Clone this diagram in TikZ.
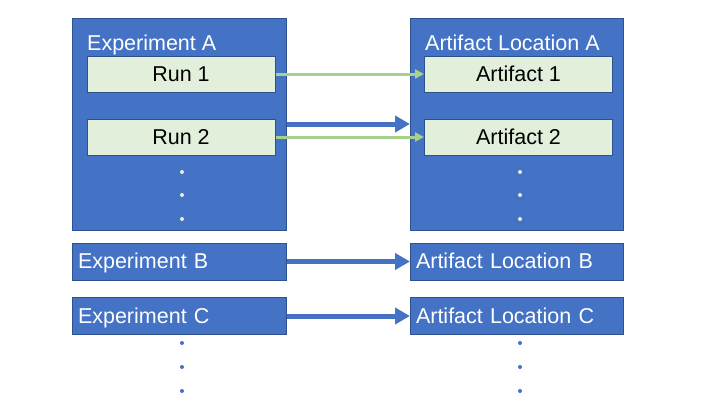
\documentclass[tikz,border=0pt]{standalone}
\usepackage{fontspec}
\setmainfont{Liberation Sans}
\usetikzlibrary{arrows.meta}
\definecolor{officeBlue}{HTML}{4472C4}
\definecolor{edgeBlue}{HTML}{2F528F}
\definecolor{runGreen}{HTML}{E2EFDA}
\definecolor{arrowGreen}{HTML}{A9D18E}
\begin{document}
\begin{tikzpicture}[x=1pt, y=-1pt,
    outerBox/.style={rectangle, draw=edgeBlue, line width=1pt, fill=officeBlue, text=white, font=\fontsize{21.5}{25}\selectfont, inner sep=0pt},
    rowBox/.style={outerBox, minimum width=214pt, minimum height=37pt, text width=202pt, align=left, text height=15pt, text depth=1pt},
    innerBox/.style={rectangle, draw=edgeBlue, line width=1pt, fill=runGreen, text=black, font=\fontsize{21.5}{25}\selectfont, minimum width=188pt, minimum height=36pt, inner sep=0pt, text height=15pt, text depth=1pt},
    blueArrow/.style={draw=officeBlue, line width=5pt, -{Triangle[length=15pt, width=16pt]}, shorten >=-0.5pt},
    greenArrow/.style={draw=arrowGreen, line width=3pt, -{Triangle[length=9pt, width=9pt]}}]
    \useasboundingbox (0,0) rectangle (720,405);
    % big boxes
    \node[outerBox, minimum width=214pt, minimum height=212pt](expA) at (179, 124) {};
    \node[outerBox, minimum width=213pt, minimum height=212pt](locA) at (516.5, 124) {};
    \node[text=white, font=\fontsize{21.5}{25}\selectfont, anchor=base west, inner sep=0pt](expAlabel) at (87, 50) {Experiment A};
    \node[text=white, font=\fontsize{21.5}{25}\selectfont, anchor=base west, inner sep=0pt](locAlabel) at (425, 50) {Artifact Location A};
    % runs and artifacts
    \node[innerBox](run1) at (181, 74) {Run 1};
    \node[innerBox](run2) at (181, 137) {Run 2};
    \node[innerBox](art1) at (518.5, 74) {Artifact 1};
    \node[innerBox](art2) at (518.5, 137) {Artifact 2};
    % other experiments
    \node[rowBox](expB) at (179, 261.5) {Experiment B};
    \node[rowBox](expC) at (179, 316) {Experiment C};
    \node[rowBox, minimum width=213pt, text width=201pt](locB) at (516.5, 261.5) {Artifact Location B};
    \node[rowBox, minimum width=213pt, text width=201pt](locC) at (516.5, 316) {Artifact Location C};

    \draw[blueArrow] (expA) -- (locA);
    \draw[greenArrow] (run1) -- (art1);
    \draw[greenArrow] (run2) -- (art2);
    \draw[blueArrow] (expB) -- (locB);
    \draw[blueArrow] (expC) -- (locC);

    % dots
    \foreach \y in {172, 195, 219} {
        \fill[runGreen] (182, \y) circle (2);
        \fill[runGreen] (520, \y) circle (2);
    }
    \foreach \y in {343, 367, 391} {
        \fill[officeBlue] (182, \y) circle (2);
        \fill[officeBlue] (520, \y) circle (2);
    }
\end{tikzpicture}
\end{document}
